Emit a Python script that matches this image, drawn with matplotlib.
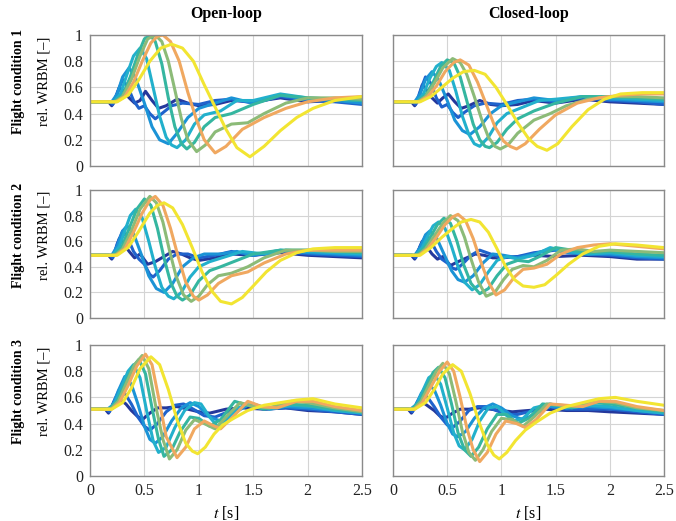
import matplotlib
matplotlib.use("Agg")
import matplotlib.pyplot as plt

plt.rcParams['font.family'] = ['Liberation Serif', 'DejaVu Serif']
plt.rcParams['mathtext.fontset'] = 'stix'

colors = ['#24389c', '#1f62cc', '#1b93d6', '#22b0cc', '#35b6a0', '#8cbb78', '#f0a860', '#f2e532']

# open-loop, flight condition 1
ol1_t = [
    [0, 0.17, 0.2, 0.23, 0.27, 0.31, 0.36, 0.41, 0.46, 0.51, 0.57, 0.63, 0.7, 0.8, 0.9, 1.0, 1.15, 1.3, 1.5, 1.75, 2.0, 2.25, 2.5],
    [0, 0.18, 0.21, 0.25, 0.3, 0.35, 0.4, 0.45, 0.5, 0.55, 0.6, 0.66, 0.75, 0.85, 1.0, 1.15, 1.3, 1.5, 1.75, 2.0, 2.25, 2.5],
    [0, 0.2, 0.25, 0.3, 0.36, 0.42, 0.5, 0.57, 0.64, 0.72, 0.8, 0.9, 1.0, 1.15, 1.3, 1.5, 1.75, 2.0, 2.25, 2.5],
    [0, 0.22, 0.28, 0.34, 0.4, 0.46, 0.52, 0.58, 0.64, 0.7, 0.75, 0.8, 0.88, 0.96, 1.05, 1.2, 1.35, 1.5, 1.75, 2.0, 2.25, 2.5],
    [0, 0.22, 0.3, 0.37, 0.44, 0.5, 0.55, 0.6, 0.66, 0.72, 0.78, 0.84, 0.89, 0.96, 1.05, 1.15, 1.3, 1.5, 1.75, 2.0, 2.25, 2.5],
    [0, 0.23, 0.3, 0.38, 0.46, 0.53, 0.6, 0.66, 0.72, 0.78, 0.84, 0.9, 0.98, 1.06, 1.15, 1.3, 1.45, 1.6, 1.8, 2.0, 2.25, 2.5],
    [0, 0.24, 0.32, 0.4, 0.48, 0.56, 0.62, 0.67, 0.74, 0.82, 0.9, 0.98, 1.05, 1.15, 1.25, 1.4, 1.6, 1.8, 2.0, 2.25, 2.5],
    [0, 0.25, 0.35, 0.45, 0.55, 0.65, 0.75, 0.85, 0.95, 1.05, 1.15, 1.25, 1.35, 1.47, 1.6, 1.75, 1.9, 2.05, 2.25, 2.5],
]
ol1_v = [
    [0.49, 0.49, 0.46, 0.5, 0.6, 0.57, 0.52, 0.48, 0.5, 0.57, 0.5, 0.44, 0.46, 0.51, 0.48, 0.46, 0.47, 0.5, 0.49, 0.52, 0.49, 0.5, 0.48],
    [0.49, 0.49, 0.47, 0.56, 0.66, 0.6, 0.5, 0.44, 0.46, 0.4, 0.36, 0.4, 0.46, 0.48, 0.47, 0.5, 0.51, 0.48, 0.53, 0.5, 0.49, 0.47],
    [0.49, 0.49, 0.55, 0.68, 0.75, 0.67, 0.48, 0.3, 0.2, 0.17, 0.25, 0.37, 0.44, 0.48, 0.52, 0.48, 0.54, 0.51, 0.5, 0.48],
    [0.49, 0.49, 0.55, 0.7, 0.84, 0.9, 0.82, 0.6, 0.38, 0.22, 0.16, 0.14, 0.2, 0.32, 0.39, 0.42, 0.5, 0.5, 0.55, 0.52, 0.51, 0.5],
    [0.49, 0.49, 0.54, 0.68, 0.85, 0.97, 1.0, 0.95, 0.78, 0.52, 0.3, 0.17, 0.13, 0.18, 0.3, 0.37, 0.4, 0.47, 0.54, 0.52, 0.51, 0.5],
    [0.49, 0.49, 0.53, 0.66, 0.84, 0.97, 1.0, 0.95, 0.8, 0.58, 0.36, 0.2, 0.11, 0.16, 0.26, 0.32, 0.33, 0.4, 0.48, 0.52, 0.52, 0.51],
    [0.49, 0.49, 0.53, 0.64, 0.8, 0.94, 0.99, 1.0, 0.95, 0.8, 0.56, 0.35, 0.2, 0.1, 0.15, 0.28, 0.37, 0.44, 0.49, 0.52, 0.53],
    [0.49, 0.49, 0.54, 0.66, 0.8, 0.9, 0.93, 0.9, 0.8, 0.62, 0.45, 0.28, 0.14, 0.07, 0.15, 0.27, 0.37, 0.44, 0.5, 0.53],
]

# closed-loop, flight condition 1
cl1_t = [
    [0, 0.17, 0.2, 0.23, 0.27, 0.31, 0.36, 0.41, 0.46, 0.51, 0.57, 0.63, 0.7, 0.8, 0.9, 1.0, 1.15, 1.3, 1.5, 1.75, 2.0, 2.25, 2.5],
    [0, 0.18, 0.21, 0.25, 0.3, 0.35, 0.4, 0.45, 0.5, 0.55, 0.6, 0.66, 0.75, 0.85, 1.0, 1.15, 1.3, 1.5, 1.75, 2.0, 2.25, 2.5],
    [0, 0.2, 0.25, 0.3, 0.36, 0.42, 0.5, 0.57, 0.64, 0.71, 0.8, 0.9, 1.0, 1.15, 1.3, 1.5, 1.75, 2.0, 2.25, 2.5],
    [0, 0.22, 0.28, 0.34, 0.4, 0.45, 0.52, 0.58, 0.64, 0.7, 0.75, 0.8, 0.88, 0.96, 1.05, 1.2, 1.35, 1.5, 1.75, 2.0, 2.25, 2.5],
    [0, 0.22, 0.3, 0.37, 0.44, 0.5, 0.56, 0.62, 0.68, 0.74, 0.8, 0.85, 0.89, 0.96, 1.05, 1.15, 1.3, 1.5, 1.75, 2.0, 2.25, 2.5],
    [0, 0.23, 0.3, 0.38, 0.46, 0.55, 0.62, 0.68, 0.75, 0.82, 0.88, 0.94, 0.99, 1.06, 1.15, 1.3, 1.45, 1.6, 1.8, 2.0, 2.25, 2.5],
    [0, 0.24, 0.32, 0.4, 0.48, 0.56, 0.62, 0.7, 0.78, 0.86, 0.94, 1.02, 1.08, 1.14, 1.22, 1.35, 1.5, 1.7, 1.9, 2.1, 2.3, 2.5],
    [0, 0.25, 0.35, 0.45, 0.55, 0.65, 0.75, 0.85, 0.95, 1.05, 1.15, 1.25, 1.33, 1.42, 1.52, 1.65, 1.8, 1.95, 2.1, 2.3, 2.5],
]
cl1_v = [
    [0.49, 0.49, 0.46, 0.5, 0.62, 0.58, 0.52, 0.48, 0.52, 0.55, 0.49, 0.44, 0.46, 0.5, 0.47, 0.46, 0.47, 0.5, 0.48, 0.51, 0.49, 0.48, 0.47],
    [0.49, 0.49, 0.47, 0.57, 0.68, 0.63, 0.52, 0.45, 0.47, 0.41, 0.37, 0.41, 0.46, 0.48, 0.47, 0.5, 0.51, 0.49, 0.52, 0.5, 0.49, 0.47],
    [0.49, 0.49, 0.55, 0.66, 0.72, 0.66, 0.5, 0.35, 0.27, 0.24, 0.3, 0.4, 0.46, 0.49, 0.52, 0.5, 0.53, 0.51, 0.5, 0.49],
    [0.49, 0.49, 0.55, 0.67, 0.76, 0.79, 0.73, 0.57, 0.38, 0.24, 0.17, 0.15, 0.22, 0.33, 0.4, 0.45, 0.5, 0.51, 0.53, 0.52, 0.51, 0.5],
    [0.49, 0.49, 0.54, 0.64, 0.76, 0.81, 0.79, 0.68, 0.5, 0.32, 0.2, 0.15, 0.14, 0.18, 0.28, 0.36, 0.42, 0.48, 0.53, 0.53, 0.52, 0.51],
    [0.49, 0.49, 0.53, 0.63, 0.75, 0.82, 0.79, 0.7, 0.53, 0.35, 0.22, 0.15, 0.13, 0.16, 0.25, 0.35, 0.4, 0.46, 0.51, 0.53, 0.53, 0.52],
    [0.49, 0.49, 0.53, 0.61, 0.72, 0.79, 0.81, 0.77, 0.64, 0.47, 0.3, 0.19, 0.15, 0.13, 0.17, 0.28, 0.39, 0.48, 0.52, 0.54, 0.55, 0.55],
    [0.49, 0.49, 0.53, 0.6, 0.67, 0.72, 0.73, 0.7, 0.6, 0.47, 0.33, 0.21, 0.15, 0.12, 0.17, 0.3, 0.43, 0.51, 0.55, 0.56, 0.56],
]

# open-loop, flight condition 2
ol2_t = [
    [0, 0.17, 0.2, 0.23, 0.27, 0.31, 0.36, 0.41, 0.46, 0.53, 0.6, 0.68, 0.76, 0.84, 0.92, 1.0, 1.15, 1.3, 1.5, 1.75, 2.0, 2.25, 2.5],
    [0, 0.18, 0.21, 0.25, 0.3, 0.35, 0.4, 0.45, 0.5, 0.55, 0.58, 0.64, 0.72, 0.8, 0.9, 1.0, 1.15, 1.3, 1.5, 1.75, 2.0, 2.25, 2.5],
    [0, 0.2, 0.25, 0.3, 0.34, 0.4, 0.47, 0.54, 0.61, 0.68, 0.76, 0.85, 0.95, 1.05, 1.2, 1.35, 1.5, 1.75, 2.0, 2.25, 2.5],
    [0, 0.21, 0.27, 0.32, 0.37, 0.42, 0.48, 0.54, 0.6, 0.66, 0.72, 0.77, 0.84, 0.92, 1.0, 1.1, 1.25, 1.4, 1.6, 1.8, 2.0, 2.25, 2.5],
    [0, 0.22, 0.29, 0.36, 0.43, 0.5, 0.56, 0.62, 0.68, 0.74, 0.8, 0.85, 0.92, 1.0, 1.1, 1.2, 1.35, 1.5, 1.75, 2.0, 2.25, 2.5],
    [0, 0.23, 0.3, 0.38, 0.46, 0.55, 0.61, 0.67, 0.73, 0.79, 0.86, 0.93, 1.0, 1.08, 1.18, 1.3, 1.45, 1.6, 1.8, 2.0, 2.25, 2.5],
    [0, 0.24, 0.32, 0.4, 0.48, 0.55, 0.6, 0.67, 0.74, 0.81, 0.88, 0.95, 1.0, 1.08, 1.18, 1.3, 1.45, 1.6, 1.8, 2.0, 2.25, 2.5],
    [0, 0.25, 0.35, 0.45, 0.55, 0.62, 0.68, 0.76, 0.85, 0.94, 1.03, 1.12, 1.2, 1.3, 1.4, 1.5, 1.62, 1.75, 1.9, 2.05, 2.25, 2.5],
]
ol2_v = [
    [0.49, 0.49, 0.46, 0.52, 0.62, 0.58, 0.52, 0.47, 0.5, 0.42, 0.44, 0.48, 0.52, 0.5, 0.47, 0.45, 0.47, 0.5, 0.49, 0.51, 0.49, 0.48, 0.47],
    [0.49, 0.49, 0.47, 0.58, 0.68, 0.62, 0.52, 0.46, 0.42, 0.34, 0.32, 0.37, 0.46, 0.5, 0.5, 0.47, 0.49, 0.52, 0.49, 0.52, 0.5, 0.49, 0.48],
    [0.49, 0.49, 0.56, 0.68, 0.72, 0.66, 0.5, 0.33, 0.23, 0.2, 0.27, 0.4, 0.47, 0.5, 0.5, 0.52, 0.49, 0.53, 0.51, 0.5, 0.49],
    [0.49, 0.49, 0.56, 0.68, 0.8, 0.85, 0.78, 0.6, 0.4, 0.24, 0.17, 0.15, 0.2, 0.32, 0.4, 0.44, 0.48, 0.52, 0.5, 0.53, 0.52, 0.51, 0.5],
    [0.49, 0.49, 0.55, 0.7, 0.85, 0.93, 0.88, 0.7, 0.47, 0.28, 0.17, 0.14, 0.18, 0.29, 0.37, 0.4, 0.45, 0.5, 0.53, 0.53, 0.52, 0.51],
    [0.49, 0.49, 0.54, 0.68, 0.85, 0.95, 0.9, 0.75, 0.53, 0.33, 0.18, 0.13, 0.17, 0.26, 0.33, 0.35, 0.4, 0.47, 0.53, 0.53, 0.52, 0.52],
    [0.49, 0.49, 0.54, 0.67, 0.82, 0.92, 0.95, 0.88, 0.7, 0.48, 0.28, 0.17, 0.14, 0.18, 0.27, 0.33, 0.36, 0.43, 0.5, 0.53, 0.53, 0.53],
    [0.49, 0.49, 0.55, 0.68, 0.82, 0.88, 0.9, 0.86, 0.73, 0.55, 0.36, 0.21, 0.13, 0.11, 0.16, 0.25, 0.36, 0.45, 0.51, 0.54, 0.55, 0.55],
]

# closed-loop, flight condition 2
cl2_t = [
    [0, 0.17, 0.2, 0.23, 0.27, 0.31, 0.36, 0.41, 0.46, 0.53, 0.6, 0.68, 0.76, 0.84, 0.92, 1.0, 1.15, 1.3, 1.5, 1.75, 2.0, 2.25, 2.5],
    [0, 0.18, 0.21, 0.25, 0.3, 0.35, 0.4, 0.45, 0.5, 0.55, 0.58, 0.64, 0.72, 0.8, 0.9, 1.0, 1.15, 1.3, 1.5, 1.75, 2.0, 2.25, 2.5],
    [0, 0.2, 0.25, 0.3, 0.34, 0.4, 0.47, 0.54, 0.6, 0.66, 0.74, 0.83, 0.92, 1.02, 1.15, 1.3, 1.45, 1.6, 1.8, 2.0, 2.25, 2.5],
    [0, 0.21, 0.27, 0.32, 0.37, 0.42, 0.48, 0.54, 0.6, 0.66, 0.73, 0.8, 0.88, 0.96, 1.05, 1.15, 1.3, 1.45, 1.6, 1.8, 2.0, 2.25, 2.5],
    [0, 0.22, 0.29, 0.35, 0.41, 0.47, 0.53, 0.59, 0.65, 0.72, 0.8, 0.88, 0.96, 1.05, 1.15, 1.25, 1.35, 1.5, 1.65, 1.8, 2.0, 2.25, 2.5],
    [0, 0.23, 0.3, 0.38, 0.46, 0.53, 0.6, 0.66, 0.72, 0.79, 0.86, 0.94, 1.02, 1.1, 1.2, 1.3, 1.42, 1.55, 1.7, 1.85, 2.0, 2.25, 2.5],
    [0, 0.24, 0.32, 0.4, 0.48, 0.55, 0.6, 0.67, 0.74, 0.81, 0.88, 0.95, 1.03, 1.12, 1.2, 1.3, 1.42, 1.55, 1.7, 1.85, 2.0, 2.25, 2.5],
    [0, 0.25, 0.35, 0.45, 0.55, 0.63, 0.72, 0.8, 0.88, 0.96, 1.04, 1.12, 1.2, 1.3, 1.4, 1.5, 1.62, 1.75, 1.9, 2.05, 2.25, 2.5],
]
cl2_v = [
    [0.49, 0.49, 0.46, 0.52, 0.6, 0.56, 0.5, 0.46, 0.48, 0.41, 0.44, 0.47, 0.5, 0.49, 0.47, 0.47, 0.48, 0.49, 0.48, 0.49, 0.48, 0.46, 0.46],
    [0.49, 0.49, 0.47, 0.56, 0.64, 0.6, 0.52, 0.46, 0.43, 0.39, 0.38, 0.42, 0.49, 0.53, 0.5, 0.47, 0.48, 0.51, 0.53, 0.5, 0.49, 0.47, 0.46],
    [0.49, 0.49, 0.55, 0.65, 0.68, 0.63, 0.5, 0.37, 0.3, 0.28, 0.33, 0.43, 0.5, 0.49, 0.47, 0.5, 0.54, 0.51, 0.5, 0.5, 0.48, 0.47],
    [0.49, 0.49, 0.55, 0.64, 0.72, 0.75, 0.7, 0.56, 0.4, 0.28, 0.22, 0.26, 0.36, 0.45, 0.48, 0.46, 0.49, 0.55, 0.52, 0.5, 0.51, 0.49, 0.48],
    [0.49, 0.49, 0.55, 0.64, 0.73, 0.78, 0.74, 0.6, 0.42, 0.27, 0.19, 0.23, 0.33, 0.42, 0.45, 0.44, 0.48, 0.55, 0.53, 0.51, 0.52, 0.5, 0.49],
    [0.49, 0.49, 0.54, 0.64, 0.74, 0.8, 0.76, 0.63, 0.46, 0.28, 0.17, 0.2, 0.3, 0.38, 0.41, 0.4, 0.45, 0.53, 0.54, 0.52, 0.53, 0.52, 0.51],
    [0.49, 0.49, 0.54, 0.63, 0.73, 0.79, 0.81, 0.76, 0.62, 0.44, 0.28, 0.18, 0.22, 0.32, 0.38, 0.39, 0.42, 0.5, 0.55, 0.57, 0.58, 0.56, 0.54],
    [0.49, 0.49, 0.55, 0.63, 0.7, 0.75, 0.77, 0.75, 0.67, 0.54, 0.4, 0.3, 0.25, 0.24, 0.26, 0.33, 0.42, 0.5, 0.56, 0.58, 0.57, 0.55],
]

# open-loop, flight condition 3
ol3_t = [
    [0, 0.14, 0.17, 0.2, 0.24, 0.28, 0.33, 0.38, 0.43, 0.48, 0.55, 0.62, 0.7, 0.8, 0.9, 1.0, 1.1, 1.25, 1.4, 1.6, 1.8, 2.0, 2.25, 2.5],
    [0, 0.15, 0.18, 0.22, 0.27, 0.32, 0.38, 0.44, 0.5, 0.55, 0.62, 0.7, 0.78, 0.86, 0.95, 1.05, 1.15, 1.3, 1.45, 1.6, 1.8, 2.0, 2.25, 2.5],
    [0, 0.16, 0.21, 0.26, 0.32, 0.38, 0.44, 0.5, 0.55, 0.6, 0.67, 0.75, 0.84, 0.92, 1.0, 1.1, 1.2, 1.3, 1.45, 1.6, 1.8, 2.0, 2.25, 2.5],
    [0, 0.17, 0.23, 0.29, 0.35, 0.4, 0.46, 0.52, 0.58, 0.63, 0.7, 0.78, 0.87, 0.96, 1.02, 1.1, 1.17, 1.25, 1.35, 1.5, 1.65, 1.85, 2.05, 2.25, 2.5],
    [0, 0.18, 0.25, 0.32, 0.39, 0.45, 0.51, 0.57, 0.63, 0.68, 0.75, 0.83, 0.92, 1.0, 1.1, 1.2, 1.33, 1.45, 1.6, 1.8, 2.0, 2.25, 2.5],
    [0, 0.19, 0.26, 0.33, 0.41, 0.48, 0.54, 0.6, 0.67, 0.73, 0.8, 0.88, 0.96, 1.05, 1.15, 1.25, 1.38, 1.5, 1.65, 1.85, 2.0, 2.25, 2.5],
    [0, 0.2, 0.27, 0.35, 0.43, 0.51, 0.57, 0.63, 0.7, 0.8, 0.88, 0.96, 1.05, 1.12, 1.2, 1.3, 1.45, 1.58, 1.72, 1.9, 2.05, 2.25, 2.5],
    [0, 0.2, 0.3, 0.38, 0.46, 0.56, 0.64, 0.72, 0.8, 0.88, 0.94, 0.99, 1.06, 1.14, 1.22, 1.32, 1.45, 1.6, 1.75, 1.9, 2.05, 2.25, 2.5],
]
ol3_v = [
    [0.51, 0.51, 0.48, 0.53, 0.6, 0.58, 0.55, 0.5, 0.46, 0.43, 0.48, 0.52, 0.52, 0.53, 0.51, 0.49, 0.48, 0.51, 0.52, 0.51, 0.52, 0.5, 0.49, 0.47],
    [0.51, 0.51, 0.49, 0.57, 0.66, 0.63, 0.55, 0.45, 0.38, 0.35, 0.4, 0.49, 0.54, 0.55, 0.51, 0.46, 0.45, 0.5, 0.54, 0.51, 0.52, 0.51, 0.49, 0.47],
    [0.51, 0.51, 0.54, 0.65, 0.76, 0.7, 0.55, 0.38, 0.28, 0.25, 0.3, 0.42, 0.52, 0.56, 0.53, 0.45, 0.42, 0.47, 0.54, 0.52, 0.53, 0.52, 0.5, 0.48],
    [0.51, 0.51, 0.56, 0.68, 0.8, 0.85, 0.75, 0.5, 0.27, 0.18, 0.22, 0.37, 0.5, 0.56, 0.55, 0.45, 0.38, 0.42, 0.52, 0.55, 0.51, 0.54, 0.53, 0.5, 0.48],
    [0.51, 0.51, 0.57, 0.7, 0.83, 0.89, 0.78, 0.52, 0.28, 0.15, 0.2, 0.34, 0.45, 0.44, 0.38, 0.43, 0.57, 0.54, 0.51, 0.55, 0.54, 0.51, 0.49],
    [0.51, 0.51, 0.57, 0.7, 0.85, 0.92, 0.82, 0.55, 0.28, 0.13, 0.2, 0.35, 0.43, 0.4, 0.36, 0.45, 0.56, 0.53, 0.52, 0.57, 0.56, 0.52, 0.49],
    [0.51, 0.51, 0.56, 0.69, 0.84, 0.93, 0.85, 0.6, 0.3, 0.14, 0.22, 0.36, 0.42, 0.39, 0.36, 0.44, 0.57, 0.53, 0.52, 0.57, 0.57, 0.53, 0.5],
    [0.51, 0.51, 0.56, 0.67, 0.82, 0.91, 0.85, 0.66, 0.43, 0.25, 0.19, 0.17, 0.22, 0.32, 0.39, 0.44, 0.5, 0.54, 0.56, 0.58, 0.59, 0.55, 0.52],
]

# closed-loop, flight condition 3
cl3_t = [
    [0, 0.14, 0.17, 0.2, 0.24, 0.28, 0.33, 0.38, 0.43, 0.48, 0.55, 0.62, 0.7, 0.8, 0.9, 1.0, 1.1, 1.25, 1.4, 1.6, 1.8, 2.0, 2.25, 2.5],
    [0, 0.15, 0.18, 0.22, 0.27, 0.32, 0.38, 0.44, 0.5, 0.55, 0.62, 0.7, 0.78, 0.86, 0.95, 1.05, 1.15, 1.3, 1.45, 1.6, 1.8, 2.0, 2.25, 2.5],
    [0, 0.16, 0.21, 0.26, 0.32, 0.38, 0.44, 0.5, 0.55, 0.6, 0.67, 0.75, 0.84, 0.92, 1.0, 1.1, 1.2, 1.3, 1.45, 1.6, 1.8, 2.0, 2.25, 2.5],
    [0, 0.17, 0.23, 0.28, 0.33, 0.38, 0.44, 0.5, 0.56, 0.61, 0.66, 0.73, 0.8, 0.88, 0.96, 1.05, 1.12, 1.2, 1.3, 1.45, 1.6, 1.8, 2.0, 2.25, 2.5],
    [0, 0.18, 0.25, 0.31, 0.37, 0.42, 0.48, 0.54, 0.6, 0.66, 0.72, 0.79, 0.87, 0.96, 1.05, 1.15, 1.25, 1.38, 1.5, 1.65, 1.85, 2.0, 2.25, 2.5],
    [0, 0.19, 0.26, 0.33, 0.4, 0.46, 0.52, 0.58, 0.64, 0.7, 0.76, 0.83, 0.91, 1.0, 1.1, 1.2, 1.3, 1.42, 1.55, 1.7, 1.9, 2.05, 2.25, 2.5],
    [0, 0.2, 0.27, 0.35, 0.43, 0.5, 0.56, 0.62, 0.68, 0.74, 0.8, 0.87, 0.95, 1.04, 1.14, 1.22, 1.32, 1.45, 1.6, 1.75, 1.9, 2.05, 2.25, 2.5],
    [0, 0.2, 0.3, 0.38, 0.46, 0.55, 0.63, 0.71, 0.79, 0.87, 0.93, 0.98, 1.05, 1.13, 1.22, 1.32, 1.45, 1.6, 1.75, 1.9, 2.05, 2.25, 2.5],
]
cl3_v = [
    [0.51, 0.51, 0.48, 0.52, 0.58, 0.56, 0.53, 0.5, 0.46, 0.44, 0.48, 0.51, 0.51, 0.52, 0.51, 0.5, 0.49, 0.5, 0.51, 0.5, 0.5, 0.49, 0.48, 0.47],
    [0.51, 0.51, 0.49, 0.56, 0.63, 0.6, 0.53, 0.45, 0.39, 0.37, 0.42, 0.5, 0.53, 0.53, 0.5, 0.47, 0.47, 0.5, 0.53, 0.51, 0.51, 0.51, 0.49, 0.47],
    [0.51, 0.51, 0.54, 0.63, 0.7, 0.66, 0.54, 0.4, 0.32, 0.3, 0.34, 0.44, 0.52, 0.55, 0.52, 0.46, 0.43, 0.47, 0.53, 0.52, 0.53, 0.52, 0.5, 0.48],
    [0.51, 0.51, 0.56, 0.66, 0.75, 0.78, 0.7, 0.52, 0.33, 0.23, 0.2, 0.28, 0.42, 0.52, 0.53, 0.46, 0.42, 0.44, 0.52, 0.55, 0.52, 0.54, 0.53, 0.5, 0.48],
    [0.51, 0.51, 0.57, 0.68, 0.79, 0.83, 0.75, 0.55, 0.33, 0.2, 0.15, 0.22, 0.36, 0.47, 0.47, 0.4, 0.44, 0.55, 0.54, 0.52, 0.56, 0.55, 0.52, 0.49],
    [0.51, 0.51, 0.57, 0.69, 0.8, 0.86, 0.78, 0.57, 0.34, 0.18, 0.12, 0.2, 0.34, 0.44, 0.43, 0.38, 0.45, 0.55, 0.54, 0.53, 0.57, 0.56, 0.52, 0.5],
    [0.51, 0.51, 0.56, 0.68, 0.8, 0.87, 0.8, 0.6, 0.37, 0.2, 0.11, 0.18, 0.32, 0.42, 0.4, 0.37, 0.43, 0.55, 0.54, 0.53, 0.57, 0.57, 0.53, 0.5],
    [0.51, 0.51, 0.56, 0.66, 0.78, 0.85, 0.8, 0.63, 0.42, 0.24, 0.16, 0.13, 0.18, 0.27, 0.35, 0.41, 0.48, 0.53, 0.56, 0.59, 0.6, 0.57, 0.54],
]

panels = [[(ol1_t, ol1_v), (cl1_t, cl1_v)],
          [(ol2_t, ol2_v), (cl2_t, cl2_v)],
          [(ol3_t, ol3_v), (cl3_t, cl3_v)]]
col_titles = ['Open-loop', 'Closed-loop']
row_titles = ['Flight condition 1', 'Flight condition 2', 'Flight condition 3']

fig = plt.figure(figsize=(6.76, 5.21), dpi=100)

W, H = 676, 521
col_x = [(90, 362), (393, 664)]
row_y = [(35, 166), (190, 318), (345, 476)]
label_y = [81, 235, 391]

for r in range(3):
    for c in range(2):
        x0, x1 = col_x[c]
        y0, y1 = row_y[r]
        ax = fig.add_axes([x0 / W, 1 - y1 / H, (x1 - x0) / W, (y1 - y0) / H])
        ts, vs = panels[r][c]
        for k in range(len(ts)):
            ax.plot(ts[k], vs[k], color=colors[k], lw=2.2, solid_joinstyle='round')
        ax.set_xlim(0, 2.5)
        ax.set_ylim(0, 1)
        ax.set_xticks([0, 0.5, 1, 1.5, 2, 2.5])
        ax.set_yticks([0, 0.2, 0.4, 0.6, 0.8, 1])
        ax.grid(True, color='#d4d4d4', lw=0.8)
        ax.set_axisbelow(True)
        for s in ax.spines.values():
            s.set_color('#8a8a8a')
            s.set_linewidth(1.0)
        ax.tick_params(length=0, labelsize=11.5, pad=5, colors='#222222')
        if c == 0:
            ax.set_yticklabels(['0', '0.2', '0.4', '0.6', '0.8', '1'])
        else:
            ax.set_yticklabels([])
        if r == 2:
            ax.set_xticklabels(['0', '0.5', '1', '1.5', '2', '2.5'])
            ax.set_xlabel(r'$t$ [s]', fontsize=11.5, labelpad=4)
        else:
            ax.set_xticklabels([])
        if r == 0:
            ax.set_title(col_titles[c], fontsize=11.5, fontweight='bold', pad=12)

for r in range(3):
    fig.text(19 / W, 1 - label_y[r] / H, row_titles[r], rotation=90, fontsize=10,
             fontweight='bold', ha='center', va='center')
    fig.text(44 / W, 1 - label_y[r] / H, 'rel. WRBM [–]', rotation=90, fontsize=10.5,
             ha='center', va='center')

fig.savefig('out.png', dpi=100)
